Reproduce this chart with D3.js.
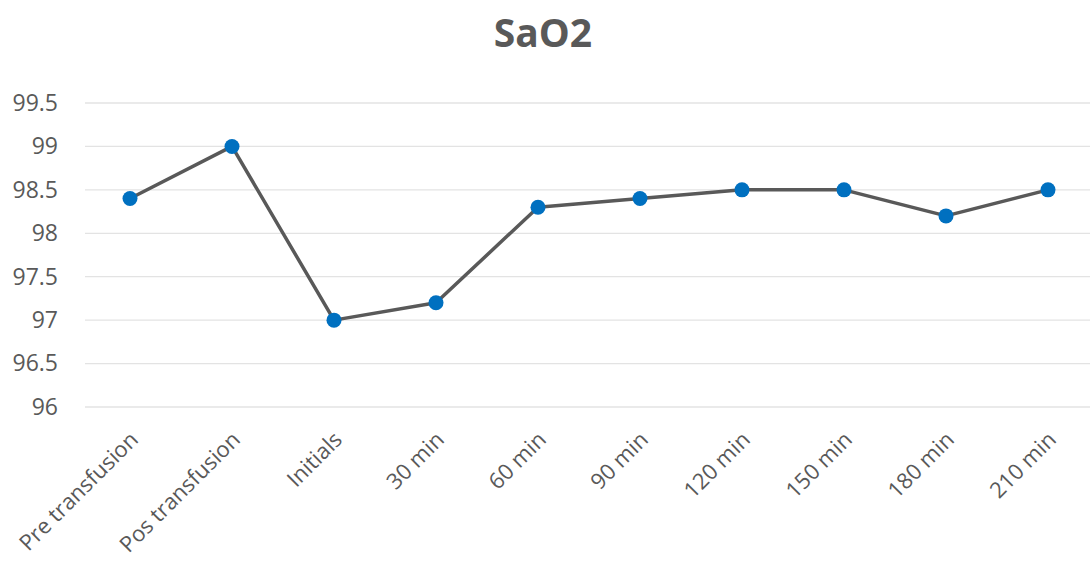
<!DOCTYPE html>
<html>
<head>
<meta charset="utf-8">
<script src="https://cdn.jsdelivr.net/npm/d3@7"></script>
<style>
  body { margin: 0; background: #fff; }
  text { font-family: "Open Sans", "Noto Sans", sans-serif; }
</style>
</head>
<body>
<script>
// 数据
var categories = ["Pre transfusion", "Pos transfusion", "Initials", "30 min", "60 min",
  "90 min", "120 min", "150 min", "180 min", "210 min"];
var values = [98.4, 99, 97, 97.2, 98.3, 98.4, 98.5, 98.5, 98.2, 98.5];
var yTicks = [96, 96.5, 97, 97.5, 98, 98.5, 99, 99.5];

var W = 1092, H = 563;

var svg = d3.select("body").append("svg")
  .attr("width", W)
  .attr("height", H);

// 比例尺
var x = d3.scalePoint()
  .domain(categories)
  .range([79, 1099])
  .padding(0.5);

var y = d3.scaleLinear()
  .domain([96, 99.5])
  .range([407, 103]);

// 标题
svg.append("text")
  .attr("x", 543)
  .attr("y", 47)
  .attr("text-anchor", "middle")
  .attr("font-size", "39px")
  .attr("font-weight", "bold")
  .attr("fill", "#595959")
  .text("SaO2");

// 网格线
svg.append("g").selectAll("line")
  .data(yTicks)
  .enter()
  .append("line")
  .attr("x1", 85)
  .attr("x2", 1090)
  .attr("y1", function (d) { return y(d); })
  .attr("y2", function (d) { return y(d); })
  .attr("stroke", "#e3e3e3")
  .attr("stroke-width", 1.3);

// y轴标签
var yAxis = d3.axisLeft(y).tickValues(yTicks).tickSize(0).tickPadding(0)
  .tickFormat(function (d) { return d; });
var gy = svg.append("g")
  .attr("transform", "translate(58,0)")
  .call(yAxis);
gy.select(".domain").remove();
gy.selectAll("text")
  .attr("font-size", "23px")
  .attr("fill", "#595959")
  .attr("font-family", "\"Open Sans\", \"Noto Sans\", sans-serif");

// x轴标签 (旋转45度)
var xAxis = d3.axisBottom(x).tickSize(0).tickPadding(0);
var gx = svg.append("g")
  .call(xAxis);
gx.select(".domain").remove();
gx.selectAll("text")
  .attr("font-size", "22px")
  .attr("fill", "#595959")
  .attr("font-family", "\"Open Sans\", \"Noto Sans\", sans-serif")
  .attr("text-anchor", "end")
  .attr("dy", 0)
  .attr("y", 0)
  .attr("transform", "translate(9,441) rotate(-45)");

// 折线
var line = d3.line()
  .x(function (d, i) { return x(categories[i]); })
  .y(function (d) { return y(d); });

svg.append("path")
  .datum(values)
  .attr("d", line)
  .attr("fill", "none")
  .attr("stroke", "#595959")
  .attr("stroke-width", 3.5)
  .attr("stroke-linejoin", "round");

// 数据点
svg.append("g").selectAll("circle")
  .data(values)
  .enter()
  .append("circle")
  .attr("cx", function (d, i) { return x(categories[i]); })
  .attr("cy", function (d) { return y(d); })
  .attr("r", 7.5)
  .attr("fill", "#0070c0");
</script>
</body>
</html>
